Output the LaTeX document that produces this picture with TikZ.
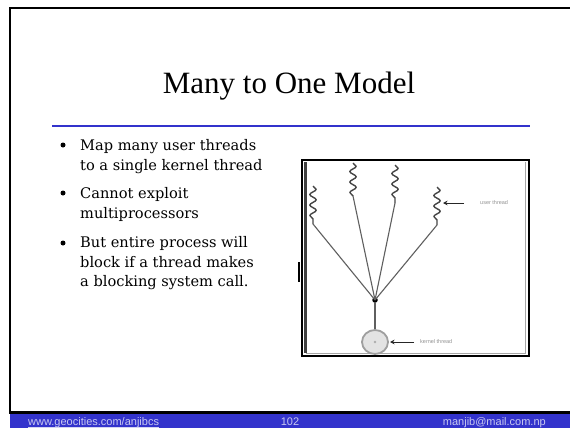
\documentclass[tikz,border=0pt]{standalone}
\usepackage{fontspec}
\setmainfont{Liberation Serif}
\newfontfamily\bodyfont{DejaVu Serif}
\newfontfamily\footfont{Liberation Sans}
\usetikzlibrary{decorations.pathmorphing,arrows.meta,shapes.geometric}
\definecolor{slideblue}{RGB}{51,51,204}
\definecolor{foottext}{RGB}{200,200,240}
\definecolor{wire}{RGB}{95,95,95}
\definecolor{squig}{RGB}{70,70,70}
\tikzset{
  frameline/.style={line width=2.2pt,black},
  bodyline/.style={anchor=base west,inner sep=0pt,font=\bodyfont\fontsize{14.6}{18}\selectfont},
  bulletdot/.style={circle,fill=black,inner sep=0pt,minimum size=5pt},
  footlabel/.style={anchor=base,inner sep=0pt,text=foottext,font=\footfont\fontsize{11}{13}\selectfont},
  squiggle/.style={draw=squig,line width=1.4pt,line join=round,decorate,decoration={snake,amplitude=3.2pt,segment length=10.5pt}},
  spoke/.style={draw=wire,line width=1.1pt},
  tinylabel/.style={anchor=west,inner sep=0pt,text=gray!85,font=\footfont\fontsize{5.5}{6}\selectfont},
  pointer/.style={draw=gray!30!black,line width=1pt,-{Stealth[length=4.5pt,width=4.5pt]}}
}
\begin{document}
\begin{tikzpicture}[x=1pt,y=-1pt]
\useasboundingbox (0,0) rectangle (570,428);
\fill[white] (0,0) rectangle (570,428);

% slide frame and footer bar
\fill[slideblue] (10,413) rectangle (570,428);
\draw[frameline] (10,413) -- (10,8) -- (570,8);
\draw[frameline] (9,412.5) -- (570,412.5);

% title and rule
\node[anchor=base,inner sep=0pt,font=\fontsize{31}{36}\selectfont] (title) at (289,93) {Many to One Model};
\draw[slideblue,line width=2pt] (52,125.5) -- (530,125.5);

% bullet list
\node[bulletdot] (b1) at (63,145) {};
\node[bulletdot] (b2) at (63,193) {};
\node[bulletdot] (b3) at (63,243) {};
\node[bodyline] (l1) at (80,150.5) {Map many user threads};
\node[bodyline] (l2) at (80,170) {to a single kernel thread};
\node[bodyline] (l3) at (80,198.5) {Cannot exploit};
\node[bodyline] (l4) at (80,218.5) {multiprocessors};
\node[bodyline] (l5) at (80,247.5) {But entire process will};
\node[bodyline] (l6) at (80,267) {block if a thread makes};
\node[bodyline] (l7) at (80,286.5) {a blocking system call.};

% figure frame
\draw[black,line width=1.6pt] (302,160) rectangle (529,356);
\draw[gray!70,line width=1.4pt] (306.5,162) -- (306.5,353.5) -- (525.5,353.5) -- (525.5,162);
\draw[gray!50!black,line width=2.4pt] (305.5,162) -- (305.5,353);
\draw[black,line width=2.6pt] (299,262) -- (299,282);

% user threads
\coordinate (t1a) at (313,186); \coordinate (t1b) at (313,224);
\coordinate (t2a) at (353,163); \coordinate (t2b) at (353,196);
\coordinate (t3a) at (395,165); \coordinate (t3b) at (395,203);
\coordinate (t4a) at (437,187); \coordinate (t4b) at (437,225);
\draw[squiggle] (t1a) -- (t1b);
\draw[squiggle] (t2a) -- (t2b);
\draw[squiggle] (t3a) -- (t3b);
\draw[squiggle] (t4a) -- (t4b);

% junction and kernel thread
\node[circle,fill=black,inner sep=0pt,minimum size=5.5pt] (hub) at (375,300) {};
\node[ellipse,draw=gray!75,line width=1.8pt,fill=gray!22,inner sep=0pt,minimum width=26pt,minimum height=24pt] (kernel) at (375,342) {};
\fill[gray!65] (kernel.center) circle (1.3pt);

\draw[spoke] (t1b) -- (hub.center);
\draw[spoke] (t2b) -- (hub.center);
\draw[spoke] (t3b) -- (hub.center);
\draw[spoke] (t4b) -- (hub.center);
\draw[spoke] (hub) -- (kernel);

% callouts
\coordinate (ua) at (464,203);
\coordinate (ub) at (443,203);
\draw[pointer] (ua) -- (ub);
\node[tinylabel] (ulab) at (480,203) {user thread};
\coordinate (ka) at (414,342);
\coordinate (kb) at (390,342);
\draw[pointer] (ka) -- (kb);
\node[tinylabel] (klab) at (420,342) {kernel thread};

% footer texts
\node[footlabel,anchor=base west] (url) at (28,425.5) {www.geocities.com/anjibcs};
\draw[foottext!80!white,line width=0.8pt] (28,427.3) -- (url.east |- 0,427.3);
\node[footlabel] (page) at (290,425.5) {102};
\node[footlabel,anchor=base east] (mail) at (546,425.5) {manjib@mail.com.np};
\end{tikzpicture}
\end{document}
